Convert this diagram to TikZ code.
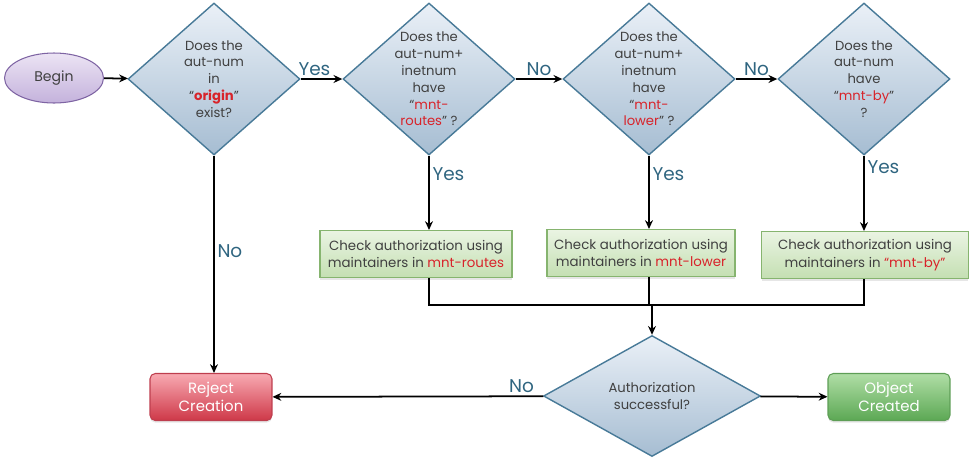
\documentclass[tikz,border=0pt]{standalone}
\usepackage{fontspec}
\setmainfont{Poppins}
\usetikzlibrary{arrows.meta,positioning,shapes.geometric,shadows}
\definecolor{dmtop}{RGB}{234,240,247}
\definecolor{dmbot}{RGB}{166,189,210}
\definecolor{dmline}{RGB}{72,122,152}
\definecolor{bgtop}{RGB}{236,228,244}
\definecolor{bgbot}{RGB}{196,178,220}
\definecolor{bgline}{RGB}{126,100,163}
\definecolor{gntop}{RGB}{234,244,227}
\definecolor{gnbot}{RGB}{196,223,178}
\definecolor{gnline}{RGB}{134,180,111}
\definecolor{rdtop}{RGB}{248,170,178}
\definecolor{rdbot}{RGB}{206,56,72}
\definecolor{rdline}{RGB}{190,62,78}
\definecolor{oktop}{RGB}{176,222,166}
\definecolor{okbot}{RGB}{92,168,84}
\definecolor{okline}{RGB}{94,158,86}
\definecolor{keyred}{RGB}{216,35,42}
\definecolor{txtgray}{RGB}{64,64,64}
\definecolor{ansblue}{RGB}{47,101,128}
\newcommand{\kw}[1]{\textcolor{keyred}{#1}}

\begin{document}
\begin{tikzpicture}[x=0.02cm,y=-0.02cm,
  decision/.style={diamond,draw=dmline,line width=0.8pt,top color=dmtop,bottom color=dmbot,
    minimum width=3.44cm,minimum height=3.04cm,inner sep=-3pt,align=center,
    font=\fontsize{7.5}{9.6}\selectfont,text=txtgray},
  checkbox/.style={rectangle,draw=gnline,line width=0.6pt,top color=gntop,bottom color=gnbot,
    minimum height=0.94cm,inner sep=2pt,align=center,font=\fontsize{7.6}{10}\selectfont,
    text=txtgray,drop shadow={opacity=0.2,shadow xshift=0pt,shadow yshift=-1.2pt}},
  endbox/.style={rectangle,rounded corners=3pt,line width=0.6pt,minimum width=2.44cm,
    minimum height=0.94cm,align=center,font=\fontsize{8.5}{10.5}\selectfont,text=white,
    drop shadow={opacity=0.2,shadow xshift=0pt,shadow yshift=-1.2pt}},
  flow/.style={-{Stealth[length=5pt,width=4.5pt]},line width=1pt},
  answer/.style={text=ansblue,font=\fontsize{10.5}{12}\selectfont,inner sep=1.5pt}
]
  \useasboundingbox (0,0) rectangle (974,464);
  % top row
  \node[ellipse,draw=bgline,line width=0.6pt,top color=bgtop,bottom color=bgbot,
    minimum width=1.98cm,minimum height=1.0cm,font=\fontsize{8}{10}\selectfont,text=txtgray]
    (begin) at (54,78) {Begin};
  \node[decision] (q1) at (214,79) {Does the\\aut-num\\in\\“\textbf{\kw{origin}}”\\exist?};
  \node[decision] (q2) at (429,79) {Does the\\aut-num+\\inetnum\\have\\“\kw{mnt-}\\\kw{routes}” ?};
  \node[decision] (q3) at (649,79) {Does the\\aut-num+\\inetnum\\have\\“\kw{mnt-}\\\kw{lower}” ?};
  \node[decision] (q4) at (864,79) {Does the\\aut-num\\have\\“\kw{mnt-by}”\\?};
  % checks
  \node[checkbox,minimum width=3.84cm] (check1) at (416,254) {Check authorization using\\maintainers in \kw{mnt-routes}};
  \node[checkbox,minimum width=3.76cm] (check2) at (641,253) {Check authorization using\\maintainers in \kw{mnt-lower}};
  \node[checkbox,minimum width=4.14cm] (check3) at (865,255) {Check authorization using\\maintainers in \kw{“mnt-by”}};
  % bottom row
  \node[decision,minimum width=4.34cm,minimum height=2.42cm,inner sep=0pt] (verify) at (652,396)
    {Authorization\\successful?};
  \node[endbox,draw=rdline,top color=rdtop,bottom color=rdbot] (reject) at (211,397) {Reject\\Creation};
  \node[endbox,draw=okline,top color=oktop,bottom color=okbot] (created) at (889,397) {Object\\Created};
  \coordinate (merge) at (652,305);
  % Arrows
  \draw[flow] (begin) -- (q1);
  \draw[flow] (q1) -- node[answer,above,pos=0.33]{Yes} (q2);
  \draw[flow] (q2) -- node[answer,above]{No} (q3);
  \draw[flow] (q3) -- node[answer,above]{No} (q4);
  \draw[flow] (q1.south) -- node[answer,right,pos=0.44]{No} (q1.south |- reject.north);
  \foreach \q/\c/\p in {q2/check1/0.25, q3/check2/0.25, q4/check3/0.15} {
    \draw[flow] (\q.south) -- node[answer,right,pos=\p]{Yes} (\q.south |- \c.north);
    \draw[line width=1pt] (\q.south |- \c.south) |- (merge);
  }
  \draw[flow] (merge) -- (verify.north);
  \draw[flow] (verify) -- node[answer,above,pos=0.08]{No} (reject);
  \draw[flow] (verify) -- (created);
\end{tikzpicture}
\end{document}
